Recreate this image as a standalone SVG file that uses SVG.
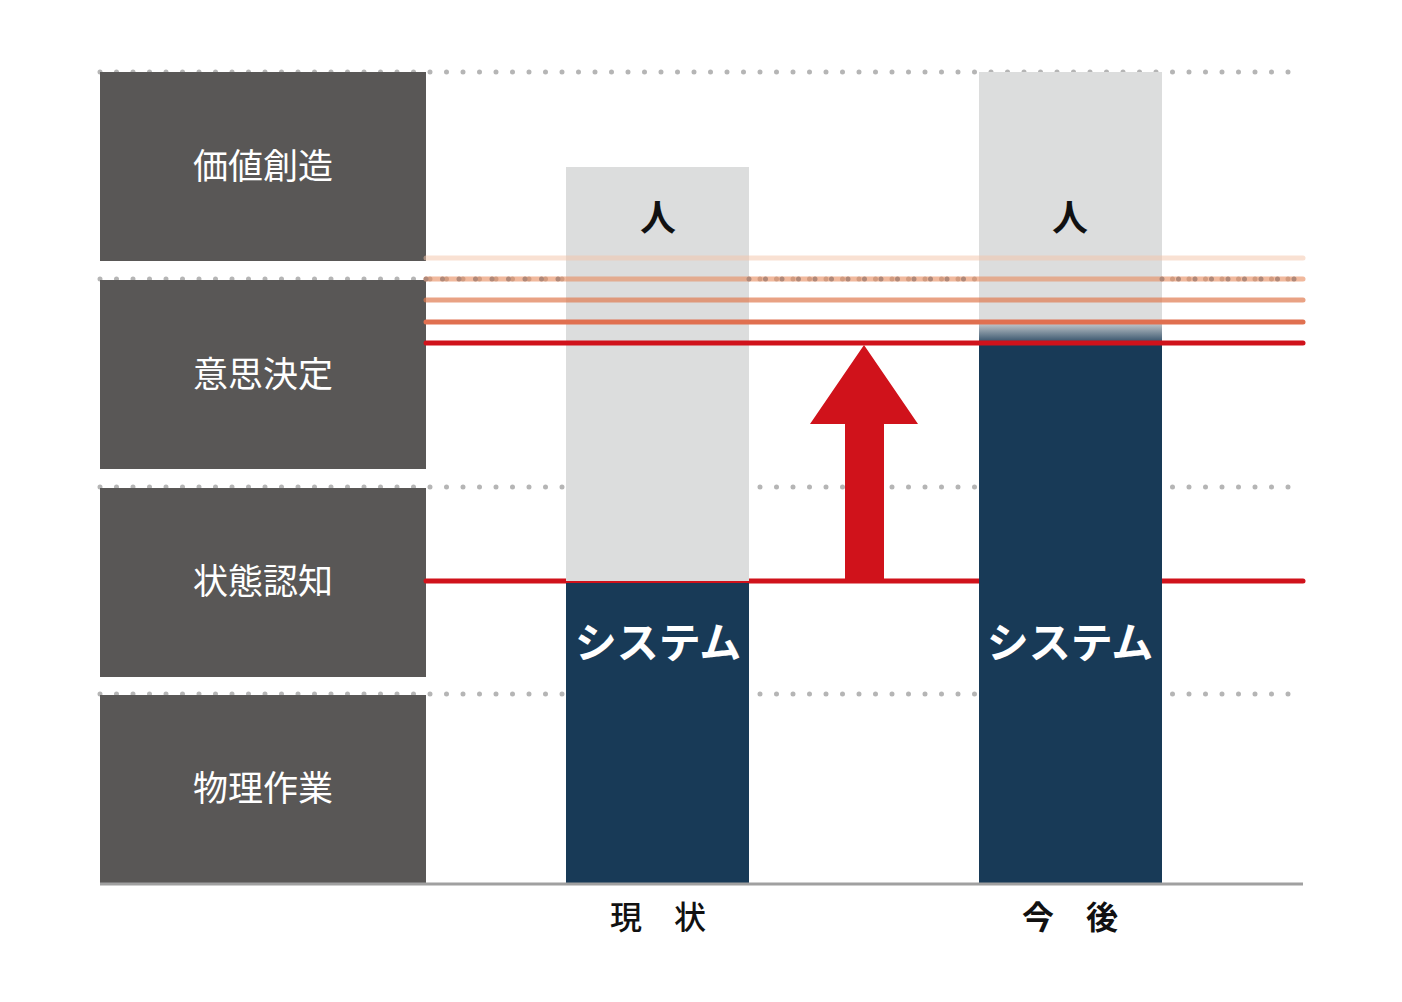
<svg xmlns="http://www.w3.org/2000/svg" width="1402" height="1002" viewBox="0 0 1402 1002">
<defs>
<style>
.dot{stroke:#b5b5b5;stroke-width:5;stroke-linecap:round;stroke-dasharray:0 16.5;fill:none}
.box{fill:#595756}
.lbl{font-family:"Noto Sans CJK JP",sans-serif;font-size:35px;fill:#fff;text-anchor:middle}
.ln{stroke-width:5;stroke-linecap:round;fill:none}
.bold{font-family:"Noto Sans CJK JP",sans-serif;font-weight:bold;text-anchor:middle}
.med{font-family:"Noto Sans CJK JP",sans-serif;font-weight:500;text-anchor:middle}
</style>
<linearGradient id="g" x1="0" y1="0" x2="0" y2="1">
<stop offset="0" stop-color="#dcdddd"/><stop offset="1" stop-color="#183a57"/>
</linearGradient>
</defs>
<rect width="1402" height="1002" fill="#fff"/>
<g id="grid">
<path class="dot" d="M100 72H1303M100 279H1303M100 487H1303M100 694H1303"/>
</g>
<g id="rows">
<g id="r1"><rect class="box" x="100" y="72" width="326" height="189"/><text class="lbl" x="263" y="179">価値創造</text></g>
<g id="r2"><rect class="box" x="100" y="280" width="326" height="189"/><text class="lbl" x="263" y="387">意思決定</text></g>
<g id="r3"><rect class="box" x="100" y="488" width="326" height="189"/><text class="lbl" x="263" y="594">状態認知</text></g>
<g id="r4"><rect class="box" x="100" y="695" width="326" height="189"/><text class="lbl" x="263" y="801">物理作業</text></g>
</g>
<g id="connectors">
<line class="ln" x1="426" y1="581" x2="1303" y2="581" stroke="#d0121b"/>
<path fill="#d0121b" d="M864 345L918 424H884V581H845V424H810Z"/>
</g>
<g id="current">
<rect x="566" y="167" width="183" height="414" fill="#dcdddd"/>
<rect x="566" y="583" width="183" height="301" fill="#183a57"/>
<text class="bold" x="658" y="231" font-size="36" fill="#111">人</text>
<text class="bold" x="658" y="658" font-size="42" fill="#fff">システム</text>
</g>
<g id="future">
<rect x="979" y="72" width="183" height="250" fill="#dcdddd"/>
<rect x="979" y="320" width="183" height="26" fill="url(#g)"/>
<rect x="979" y="345" width="183" height="539" fill="#183a57"/>
<text class="bold" x="1070" y="231" font-size="36" fill="#111">人</text>
<text class="bold" x="1070" y="658" font-size="42" fill="#fff">システム</text>
</g>
<g id="levels">
<line class="ln" x1="426" y1="258" x2="1303" y2="258" stroke="#f3c4a8" opacity="0.5"/>
<line class="ln" x1="426" y1="279" x2="1303" y2="279" stroke="#e88a5c" opacity="0.6"/>
<path class="dot" d="M426 279H566M749 279H979M1162 279H1303" style="stroke:#b08878"/>
<line class="ln" x1="426" y1="300" x2="1303" y2="300" stroke="#e07a50" opacity="0.7"/>
<line class="ln" x1="426" y1="322" x2="1303" y2="322" stroke="#e07050"/>
<line class="ln" x1="426" y1="343" x2="1303" y2="343" stroke="#d0121b"/>
</g>
<line x1="100" y1="884" x2="1303" y2="884" stroke="#a0a0a0" stroke-width="3"/>
<text class="med" x="658" y="929" font-size="32" fill="#111">現　状</text>
<text class="bold" x="1070" y="929" font-size="32" fill="#111">今　後</text>
</svg>
